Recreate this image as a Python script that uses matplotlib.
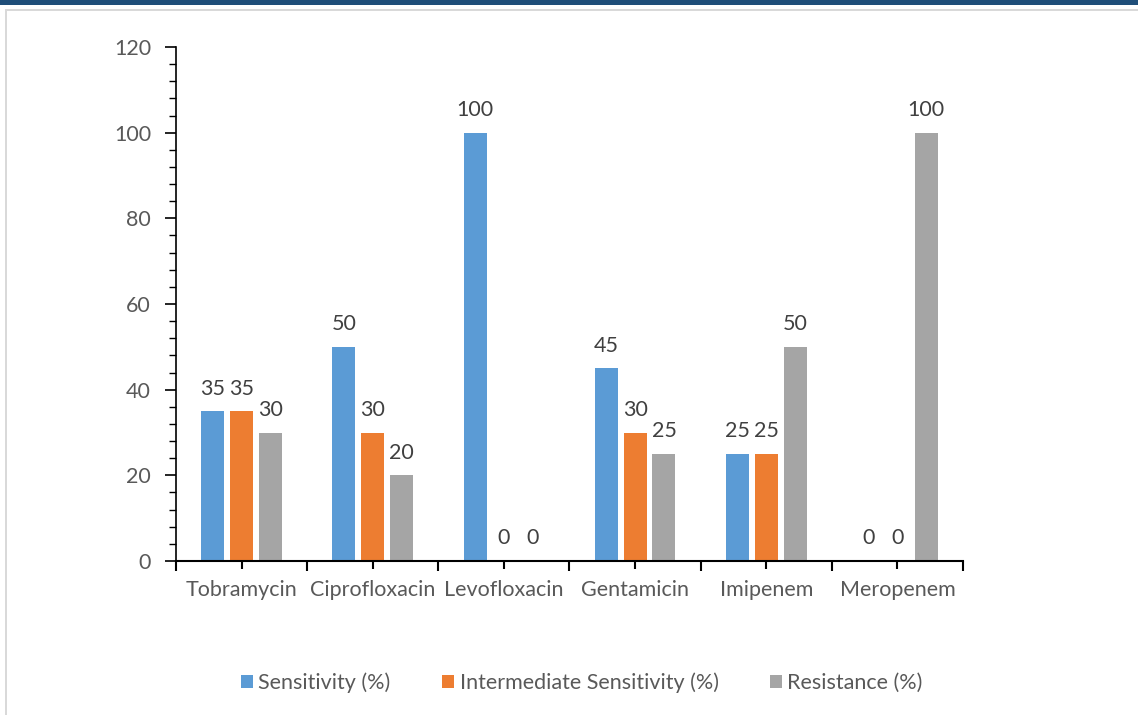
import numpy as np
import matplotlib.pyplot as plt
from matplotlib.patches import Rectangle
from matplotlib.ticker import MultipleLocator, FixedLocator

drugs = ['Tobramycin', 'Ciprofloxacin', 'Levofloxacin', 'Gentamicin', 'Imipenem', 'Meropenem']
sensitivity = [35, 50, 100, 45, 25, 0]
intermediate = [35, 30, 0, 30, 25, 0]
resistance = [30, 20, 0, 25, 50, 100]

series = [
    ('Sensitivity (%)', sensitivity, '#5B9BD5'),
    ('Intermediate Sensitivity (%)', intermediate, '#ED7D31'),
    ('Resistance (%)', resistance, '#A5A5A5'),
]

plt.rcParams['font.family'] = ['Lato', 'DejaVu Sans']
txt = '#595959'
fs = 15.5

fig = plt.figure(figsize=(11.38, 7.15), dpi=100)

# window frame: dark band on top, thin grey border
fig.patches.append(Rectangle((0, 1 - 5 / 715), 1, 5 / 715, transform=fig.transFigure,
                             facecolor='#1F4E79', edgecolor='none'))
fig.patches.append(Rectangle((5 / 1138, 0), 2 / 1138, 1 - 9 / 715, transform=fig.transFigure,
                             facecolor='#D9D9D9', edgecolor='none'))
fig.patches.append(Rectangle((5 / 1138, 1 - 11 / 715), 1, 2 / 715, transform=fig.transFigure,
                             facecolor='#D9D9D9', edgecolor='none'))

ax = fig.add_axes([176 / 1138, 1 - 561 / 715, (963 - 176) / 1138, (561 - 47) / 715])

x = np.arange(len(drugs))
w = 0.175
step = 0.22
for i, (name, vals, col) in enumerate(series):
    pos = x + (i - 1) * step
    ax.bar(pos, vals, width=w, color=col, label=name, zorder=2)
    for xp, v in zip(pos, vals):
        ax.annotate(f'{v}', (xp, v), xytext=(0, 9), textcoords='offset points',
                    ha='center', va='bottom', fontsize=fs, color='#404040')

ax.set_xlim(-0.5, len(drugs) - 0.5)
ax.set_ylim(0, 120)

ax.yaxis.set_major_locator(MultipleLocator(20))
ax.yaxis.set_minor_locator(MultipleLocator(4))
ax.xaxis.set_major_locator(FixedLocator(np.arange(-0.5, len(drugs), 1.0)))
ax.set_xticklabels([])
ax.set_xticks(x, minor=True)
ax.set_xticklabels(drugs, minor=True)

ax.tick_params(axis='y', which='major', direction='out', length=8, width=1.2,
               labelsize=fs, labelcolor=txt, pad=10)
ax.tick_params(axis='y', which='minor', direction='out', length=5, width=1)
ax.tick_params(axis='x', which='major', direction='out', length=7, width=1.5)
ax.tick_params(axis='x', which='minor', direction='out', length=6, width=1.5,
               labelsize=fs, labelcolor=txt, pad=8)

for s in ['top', 'right']:
    ax.spines[s].set_visible(False)
ax.spines['left'].set_linewidth(1.2)
ax.spines['bottom'].set_linewidth(1.5)

leg = fig.legend(loc='center', bbox_to_anchor=(582 / 1138, 1 - 683 / 715), ncol=3,
                 frameon=False, fontsize=fs, handlelength=0.55, handleheight=0.55,
                 handletextpad=0.25, columnspacing=2.4)
for t in leg.get_texts():
    t.set_color(txt)

fig.savefig('out.png', dpi=100)
